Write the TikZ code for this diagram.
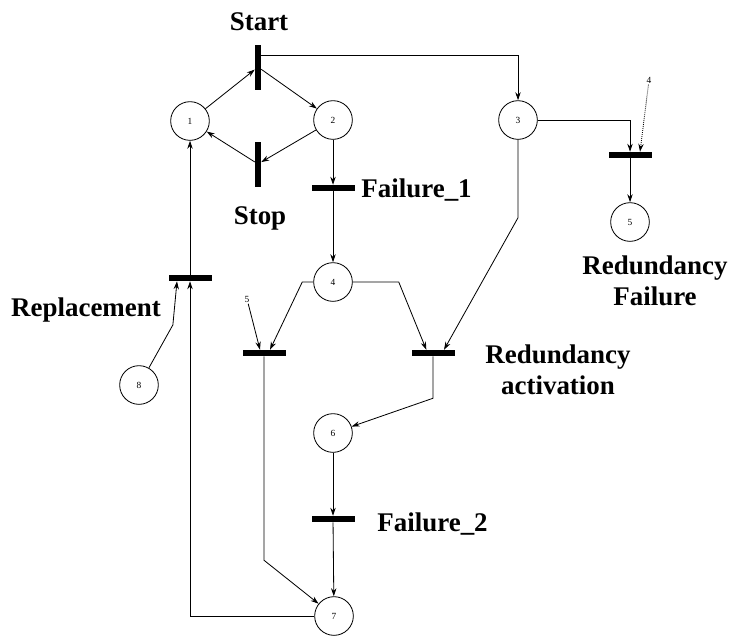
\documentclass[tikz,border=0pt]{standalone}
\usepackage{fontspec}
\setmainfont{Liberation Serif}
\usetikzlibrary{arrows.meta}
\begin{document}
\begin{tikzpicture}[x=0.3mm,y=-0.3mm,line width=0.7pt,
    >={Stealth[length=2.4mm,width=1.6mm]},
    place/.style={draw,circle,minimum size=11.6mm,inner sep=0pt,font=\fontsize{8}{9}\selectfont},
    hbar/.style={fill=black,minimum width=12.9mm,minimum height=1.7mm,inner sep=0pt},
    vbar/.style={fill=black,minimum width=1.7mm,minimum height=13.5mm,inner sep=0pt},
    lbl/.style={font=\fontsize{23}{26}\selectfont\bfseries,align=center,inner sep=0pt},
    tag/.style={font=\fontsize{8}{9}\selectfont,inner sep=1pt}]
  \useasboundingbox (0,0) rectangle (733,636);
  % places
  \node[place] (p1) at (190,121) {1};
  \node[place] (p2) at (333,120) {2};
  \node[place] (p3) at (518,120) {3};
  \node[place] (p4) at (333,282) {4};
  \node[place] (p5) at (630,222) {5};
  \node[place] (p6) at (333,433) {6};
  \node[place] (p7) at (334,616) {7};
  \node[place] (p8) at (139,385) {8};
  % transitions
  \node[vbar] (start) at (258,67) {};
  \node[vbar] (stop) at (258,164) {};
  \node[hbar] (fail1) at (333,188) {};
  \node[hbar] (redfail) at (630,155) {};
  \node[hbar] (redact) at (433,353) {};
  \node[hbar] (spare) at (264,353) {};
  \node[hbar] (fail2) at (333,519) {};
  \node[hbar] (repl) at (190,278) {};
  % labels
  \node[lbl,anchor=base] (lstart) at (259,30) {Start};
  \node[lbl,anchor=base] (lstop) at (260,224) {Stop};
  \node[lbl,anchor=base west] (lfail1) at (361,197) {Failure\_1};
  \node[lbl,anchor=base west] (lfail2) at (377,531) {Failure\_2};
  \node[lbl,anchor=base] (lrepl) at (86,316) {Replacement};
  \node[lbl] (lredfail) at (655,281) {Redundancy\\Failure};
  \node[lbl] (lredact) at (558,370) {Redundancy\\activation};
  \node[tag] (in4) at (649,80) {4};
  \node[tag] (in5) at (247,299) {5};
  % arcs
  \draw[->] (p1) -- (start);
  \draw[->] (start) -- (p2);
  \draw[->] (p2) -- (stop);
  \draw[->] (stop) -- (p1);
  \draw[->] ([yshift=3.6mm]start.east) -| (p3);
  \draw[->] (p3) -| (redfail);
  \draw[->,densely dotted] (in4) -- ([xshift=3mm]redfail.north);
  \draw[->] (redfail) -- (p5);
  \draw[->] (p2) -- (fail1);
  \draw[->] (fail1) -- (p4);
  \draw[->] (p3.south) -- ++(0,78) -- ([xshift=3.3mm]redact.north);
  \draw[->] (p4.east) -- ++(46,0) -- ([xshift=-2mm]redact.north);
  \draw[->] (p4.west) -- ++(-11,0) -- ([xshift=1.8mm]spare.north);
  \draw[->] (in5) -- ([xshift=-1.2mm]spare.north);
  \draw[->] (spare.south) -- ++(0,204) -- (p7);
  \draw[->] (redact.south) -- ++(0,42) -- (p6);
  \draw[->] (p6) -- (fail2);
  \draw[->] (fail2) -- (p7);
  \draw[->] (p7) -| (repl);
  \draw[->] (repl) -- (p1);
  \draw[->] (p8.60) -- ++(24,-43) -- ([xshift=-3.9mm]repl.south);
\end{tikzpicture}
\end{document}
